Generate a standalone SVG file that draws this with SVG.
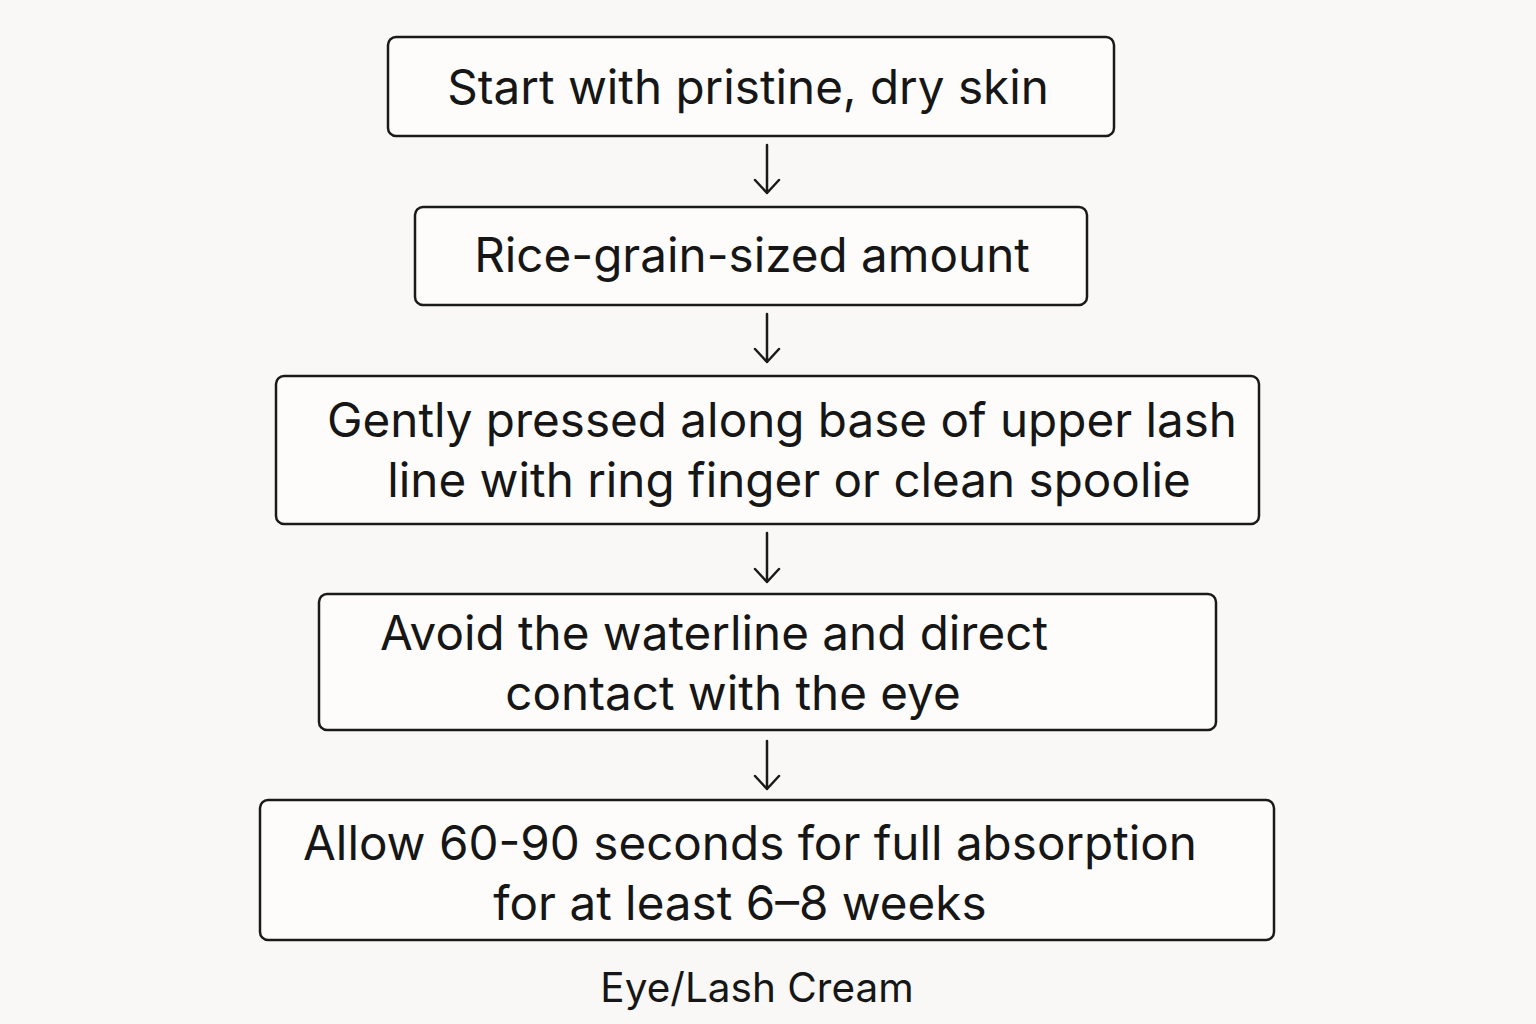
<svg xmlns="http://www.w3.org/2000/svg" width="1536" height="1024" viewBox="0 0 1536 1024">
<style>
.box{fill:#fdfcfa;stroke:#1a1a1a;stroke-width:2.5}
.t{font-family:Inter,"Open Sans",sans-serif;font-size:47.6px;fill:#161616;text-anchor:middle}
.c{stroke:#1a1a1a;stroke-width:2.5;fill:none;stroke-linecap:round;stroke-linejoin:round}
</style>
<rect width="1536" height="1024" fill="#f9f8f6"/>
<g id="n1"><rect class="box" x="388" y="37" width="726" height="99" rx="8"/><text class="t" x="748" y="104">Start with pristine, dry skin</text></g>
<g id="n2"><rect class="box" x="415" y="207" width="672" height="98" rx="8"/><text class="t" x="752" y="272">Rice-grain-sized amount</text></g>
<g id="n3"><rect class="box" x="276" y="376" width="983" height="148" rx="8"/><text class="t" x="782" y="437">Gently pressed along base of upper lash</text><text class="t" x="789" y="497">line with ring finger or clean spoolie</text></g>
<g id="n4"><rect class="box" x="319" y="594" width="897" height="136" rx="8"/><text class="t" x="714" y="650">Avoid the waterline and direct</text><text class="t" x="733" y="710">contact with the eye</text></g>
<g id="n5"><rect class="box" x="260" y="800" width="1014" height="140" rx="8"/><text class="t" x="750" y="860">Allow 60-90 seconds for full absorption</text><text class="t" x="740" y="920">for at least 6–8 weeks</text></g>
<g id="connectors">
<path class="c" d="M767 145V193M755 180L767 193L779 180"/>
<path class="c" d="M767 314V362M755 349L767 362L779 349"/>
<path class="c" d="M767 533V582M755 569L767 582L779 569"/>
<path class="c" d="M767 741V789M755 776L767 789L779 776"/>
</g>
<text x="757" y="1002" style="font-family:Inter,'Open Sans',sans-serif;font-size:40.5px;fill:#161616;text-anchor:middle">Eye/Lash Cream</text>
</svg>
